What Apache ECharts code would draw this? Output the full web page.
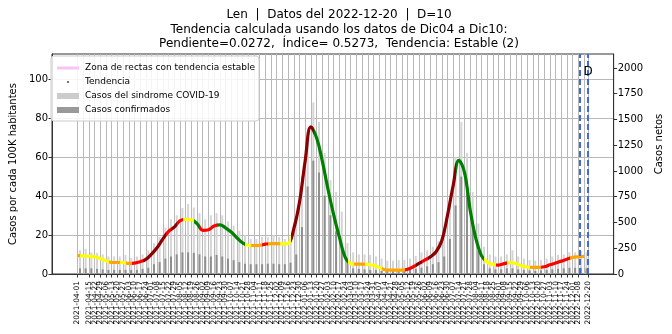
<!DOCTYPE html>
<html><head><meta charset="utf-8">
<script src="https://cdn.jsdelivr.net/npm/echarts@6/dist/echarts.min.js"></script>
<style>html,body{margin:0;padding:0;background:#fff}#c{width:672px;height:334px}</style>
</head><body><div id="c"></div>
<script>
// ---- tick labels (weekly) ----
const weekLabels = [
'2021-04-01','2021-04-08','2021-04-15','2021-04-22','2021-04-29','2021-05-06','2021-05-13','2021-05-20','2021-05-27','2021-06-03',
'2021-06-10','2021-06-17','2021-06-24','2021-07-01','2021-07-08','2021-07-15','2021-07-22','2021-07-29','2021-08-05','2021-08-12',
'2021-08-19','2021-08-26','2021-09-02','2021-09-09','2021-09-16','2021-09-23','2021-09-30','2021-10-07','2021-10-14','2021-10-21',
'2021-10-28','2021-11-04','2021-11-11','2021-11-18','2021-11-25','2021-12-02','2021-12-09','2021-12-16','2021-12-23','2021-12-30',
'2022-01-06','2022-01-13','2022-01-20','2022-01-27','2022-02-03','2022-02-10','2022-02-17','2022-02-24','2022-03-03','2022-03-10',
'2022-03-17','2022-03-24','2022-03-31','2022-04-07','2022-04-14','2022-04-21','2022-04-28','2022-05-05','2022-05-12','2022-05-19',
'2022-05-26','2022-06-02','2022-06-09','2022-06-16','2022-06-23','2022-06-30','2022-07-07','2022-07-14','2022-07-21','2022-07-28',
'2022-08-04','2022-08-11','2022-08-18','2022-08-25','2022-09-01','2022-09-08','2022-09-15','2022-09-22','2022-09-29','2022-10-06',
'2022-10-13','2022-10-20','2022-10-27','2022-11-03','2022-11-10','2022-11-17','2022-11-24','2022-12-01','2022-12-08','2022-12-15',
'2022-12-20'
];
// ---- trend (cases per 100K) at each weekly date ----
const trendValues = [
9.5,9.3,9.1,8.8,8.0,6.8,5.9,5.9,5.9,5.4,
5.6,6.3,7.5,10.2,13.6,18.0,21.9,24.0,27.3,28.0,
27.8,25.8,22.4,22.7,24.6,25.2,23.7,21.5,18.6,16.0,
14.7,14.6,14.7,15.3,15.6,15.6,15.4,15.6,23.2,36.8,
58.0,75.5,69.8,58.0,43.6,30.5,19.0,8.8,5.4,5.1,
5.1,4.9,4.4,3.4,2.2,2.0,2.0,2.0,2.4,3.7,
5.4,7.1,8.8,11.4,17.0,30.0,45.3,58.3,52.0,32.5,
18.1,9.3,6.1,4.9,4.6,5.3,5.9,5.4,4.2,3.6,
3.4,3.4,3.7,4.7,5.6,6.6,7.6,8.5,8.8,9.0
];
// trend class: DR strong rise, R rise, O slight rise, Y stable, G falling
const trendClasses = [
'O','Y','Y','Y','Y','Y','O','O','Y','O',
'R','R','DR','DR','DR','DR','R','DR','R','Y',
'Y','G','R','R','R','G','G','G','G','G',
'Y','O','O','R','O','O','Y','Y','DR','DR',
'DR','DR','G','G','G','G','G','G','Y','O',
'O','Y','Y','Y','O','O','O','O','R','R',
'DR','R','DR','DR','DR','DR','DR','G','G','G',
'G','G','Y','Y','R','R','Y','Y','Y','Y',
'O','O','R','R','R','R','R','O','O','O'
];
// ---- weekly net cases (bars) ----
const sindromeCases = [
230,245,210,205,190,170,170,170,185,155,
170,190,230,300,360,450,530,570,640,680,
645,590,530,570,590,570,510,470,420,380,
340,340,360,360,380,360,340,360,530,950,
1420,1665,1475,1175,910,795,605,300,210,190,
190,185,170,150,130,130,135,135,150,175,
210,230,265,320,455,720,1135,1475,1175,795,
490,265,190,170,170,190,230,170,150,135,
130,135,150,170,185,190,210,210,225,210
];
const confirmedCases = [
55,55,55,50,45,40,40,40,40,40,
40,50,60,95,115,150,170,190,210,210,
205,190,170,170,185,170,150,135,115,100,
95,95,95,100,100,95,95,110,190,455,
850,1100,985,760,570,415,265,115,55,50,
45,40,40,30,30,30,30,30,40,50,
60,75,95,115,170,340,665,945,795,475,
225,95,55,45,45,55,55,45,40,35,
30,35,40,45,50,55,60,60,60,55
];
const cutoffDates = ['2022-12-10','2022-12-20'];
const leftTicks = [0,20,40,60,80,100];
const rightTicks = [0,250,500,750,1000,1250,1500,1750,2000];
const dLabel = {date:'2022-12-20', value:103.5, text:'D'};

const classColor = {DR:'#8b0000', R:'#ff0000', O:'#ffa500', Y:'#ffff00', G:'#008000'};
const DAY = 86400000;
const ts = s => { const p = s.split('-').map(Number); return Date.UTC(p[0], p[1]-1, p[2]); };
const pad = n => (n < 10 ? '0' : '') + n;
const fmt = v => { const d = new Date(v); return d.getUTCFullYear()+'-'+pad(d.getUTCMonth()+1)+'-'+pad(d.getUTCDate()); };

const weekTs = weekLabels.map(ts);
const trendTs = weekTs.slice(0, trendValues.length);
const barTs = trendTs.map(t => t + 3*DAY);
const t0 = weekTs[0], t1 = weekTs[weekTs.length-1];
const xMin = t0 - 0.05*(t1-t0), xMax = t1 + 0.05*(t1-t0);

const pieces = [];
for (let i = 0; i < trendTs.length; i++) {
  const lo = i === 0 ? xMin : (trendTs[i-1]+trendTs[i])/2;
  const hi = i === trendTs.length-1 ? xMax : (trendTs[i]+trendTs[i+1])/2;
  const c = classColor[trendClasses[i]];
  const last = pieces[pieces.length-1];
  if (last && last.color === c) last.lt = hi; else pieces.push({gte: lo, lt: hi, color: c});
}

const FONT = 'DejaVu Sans';
const box = 'M0,0L0,0M24,8L24,8';
const option = {
  animation: false,
  textStyle: {fontFamily: FONT},
  title: {
    text: 'Len  |  Datos del 2022-12-20  |  D=10\nTendencia calculada usando los datos de Dic04 a Dic10:\nPendiente=0.0272,  Índice= 0.5273,  Tendencia: Estable (2)',
    left: 339, top: 8, padding: 0, textAlign: 'center',
    textStyle: {fontSize: 12, fontWeight: 'normal', color: '#000', lineHeight: 14.5, fontFamily: FONT}
  },
  grid: {left: 50, right: 44, top: 54, bottom: 60, show: true, borderColor: '#333', borderWidth: 1, backgroundColor: 'transparent'},
  legend: {
    orient: 'vertical', left: 51, top: 56,
    padding: [7, 4, 6, 5], itemGap: 4, itemWidth: 24, itemHeight: 8,
    backgroundColor: 'rgba(255,255,255,0.85)', borderColor: '#cccccc', borderWidth: 1, borderRadius: 3,
    textStyle: {fontSize: 9, color: '#000', lineHeight: 10, fontFamily: FONT},
    data: [
      {name: 'Zona de rectas con tendencia estable', icon: 'path://'+box+'M1,2.5L23,2.5L23,5.5L1,5.5Z', itemStyle: {color: '#f7c4f7', borderWidth: 0}},
      {name: 'Tendencia', icon: 'path://'+box+'M11,3L13,3L13,5L11,5Z', itemStyle: {color: '#777777', borderWidth: 0}},
      {name: 'Casos del sindrome COVID-19', icon: 'path://'+box+'M1,1L23,1L23,7L1,7Z', itemStyle: {color: '#cccccc', borderWidth: 0}},
      {name: 'Casos confirmados', icon: 'path://'+box+'M1,1L23,1L23,7L1,7Z', itemStyle: {color: '#999999', borderWidth: 0}}
    ]
  },
  xAxis: {
    type: 'value', min: xMin, max: xMax, scale: true,
    axisLine: {show: true, onZero: false, lineStyle: {color: '#333'}},
    axisTick: {show: true, length: 3.5, customValues: weekTs, lineStyle: {color: '#333'}},
    axisLabel: {customValues: weekTs, rotate: 90, fontSize: 7.5, margin: 7, color: '#000', formatter: v => fmt(v),
      hideOverlap: false, showMinLabel: true, showMaxLabel: true},
    splitLine: {show: false}
  },
  yAxis: [
    {type: 'value', min: 0, max: 112.8, position: 'left',
     name: 'Casos por cada 100K habitantes', nameLocation: 'middle', nameGap: 34,
     nameTextStyle: {fontSize: 10, color: '#000', fontFamily: FONT},
     axisLine: {show: true, lineStyle: {color: '#333'}},
     axisTick: {show: true, length: 3.5, customValues: leftTicks, lineStyle: {color: '#333'}},
     axisLabel: {customValues: leftTicks, fontSize: 10, color: '#000', margin: 4, formatter: v => String(v)},
     splitLine: {show: true, lineStyle: {color: '#b8b8b8', width: 1}}},
    {type: 'value', min: 0, max: 2135, position: 'right',
     name: 'Casos netos', nameLocation: 'middle', nameGap: 40,
     nameTextStyle: {fontSize: 10, color: '#000', fontFamily: FONT, padding: [0, 0, 0, 40]},
     axisLine: {show: true, lineStyle: {color: '#333'}},
     axisTick: {show: true, length: 3.5, customValues: rightTicks, lineStyle: {color: '#333'}},
     axisLabel: {customValues: rightTicks, fontSize: 10, color: '#000', margin: 4, formatter: v => String(v)},
     splitLine: {show: false}}
  ],
  visualMap: {type: 'piecewise', show: false, seriesIndex: 2, dimension: 0, pieces: pieces, outOfRange: {color: '#999'}},
  series: [
    {name: 'Casos del sindrome COVID-19', type: 'bar', yAxisIndex: 1, z: 2, barWidth: 2, barGap: '-100%',
     itemStyle: {color: '#d6d6d6'},
     data: barTs.map((t, i) => [t, sindromeCases[i]]),
     markLine: {silent: true, z: 1, symbol: ['none','none'], label: {show: false},
       lineStyle: {color: '#b8b8b8', width: 1, type: 'solid'},
       data: weekTs.map(t => ({xAxis: t}))}},
    {name: 'Casos confirmados', type: 'bar', yAxisIndex: 1, z: 2, barWidth: 2, barGap: '-100%',
     itemStyle: {color: '#8f8f8f'},
     data: barTs.map((t, i) => [t, confirmedCases[i]])},
    {name: 'Tendencia', type: 'line', yAxisIndex: 0, z: 4, smooth: 0.4, showSymbol: false, color: '#777',
     lineStyle: {width: 3.2},
     data: trendTs.map((t, i) => [t, trendValues[i]]),
     markLine: {silent: true, z: 6, symbol: ['none','none'], label: {show: false},
       lineStyle: {color: '#4169e1', width: 2, type: [6, 3]},
       data: cutoffDates.map(d => ({xAxis: ts(d)}))},
     markPoint: {silent: true, z: 7, symbol: 'circle', symbolSize: 1, itemStyle: {color: 'rgba(0,0,0,0)'},
       label: {show: true, position: 'inside', formatter: dLabel.text, fontSize: 12, color: '#000', fontFamily: FONT},
       data: [{coord: [ts(dLabel.date), dLabel.value]}]}},
    {name: 'Zona de rectas con tendencia estable', type: 'line', yAxisIndex: 0, color: '#f7c4f7', data: []}
  ]
};
const chart = echarts.init(document.getElementById('c'), null, {renderer: 'canvas'});
chart.setOption(option);
</script></body></html>
